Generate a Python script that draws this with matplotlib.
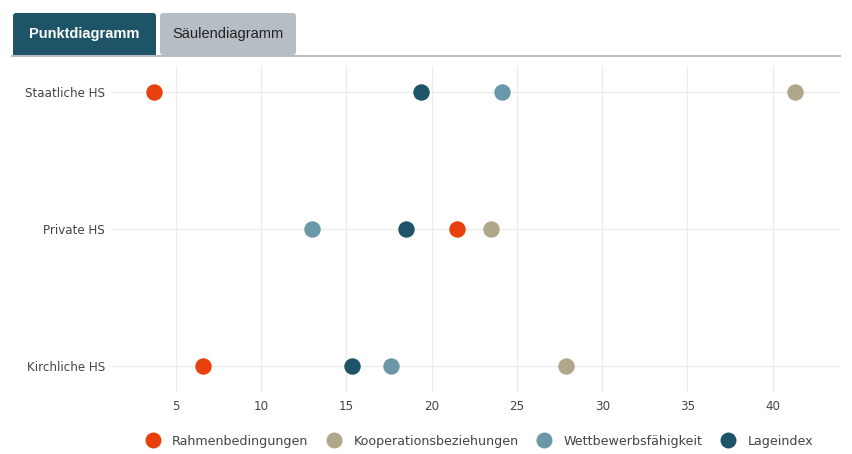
import matplotlib.pyplot as plt
from matplotlib.patches import FancyBboxPatch
from matplotlib.lines import Line2D

categories = ['Staatliche HS', 'Private HS', 'Kirchliche HS']
series_names = ['Rahmenbedingungen', 'Kooperationsbeziehungen', 'Wettbewerbsfähigkeit', 'Lageindex']
rahmen = [3.7, 21.5, 6.6]
koop = [41.3, 23.5, 27.9]
wett = [24.1, 13.0, 17.6]
lage = [19.4, 18.5, 15.3]
colors = ['#e8400c', '#b0a68a', '#6b98a8', '#1d5468']
xticks = [5, 10, 15, 20, 25, 30, 35, 40]

W, H = 852, 454
fig = plt.figure(figsize=(W / 100, H / 100), dpi=100)
ax = fig.add_axes([112 / W, 1 - 392 / H, (840 - 112) / W, (392 - 66) / H])

ypos = [0, 1, 2]
for vals, name, c in zip([rahmen, koop, wett, lage], series_names, colors):
    ax.scatter(vals, ypos, s=140, color=c, label=name, zorder=3, linewidths=0)

ax.set_xlim(1.25, 43.95)
ax.set_ylim(2.19, -0.19)
ax.set_yticks(ypos)
ax.set_yticklabels(categories)
ax.set_xticks(xticks)
ax.grid(True, color='#ececec', linewidth=0.9)
ax.set_axisbelow(True)
for s in ax.spines.values():
    s.set_visible(False)
ax.tick_params(length=0, labelsize=8.6, colors='#444444', pad=6)
ax.tick_params(axis='y', pad=5)

# tabs
tab_ax = fig.add_axes([0, 0, 1, 1])
tab_ax.set_xlim(0, W)
tab_ax.set_ylim(H, 0)
tab_ax.axis('off')
tab_ax.patch.set_alpha(0)
tab_ax.add_patch(FancyBboxPatch((13, 13), 143, 44, boxstyle='round,pad=0,rounding_size=3',
                                facecolor='#1d5468', edgecolor='none'))
tab_ax.add_patch(FancyBboxPatch((160, 13), 136, 42, boxstyle='round,pad=0,rounding_size=3',
                                facecolor='#b6bdc4', edgecolor='none'))
tab_ax.plot([12, 840], [55.5, 55.5], color='#b6bdc4', linewidth=1.5)
tab_ax.text(84, 34, 'Punktdiagramm', color='white', fontsize=10.5, fontweight='bold',
            family='Liberation Sans', ha='center', va='center')
tab_ax.text(228, 34, 'Säulendiagramm', color='#222222', fontsize=10.5,
            family='Liberation Sans', ha='center', va='center')

handles = [Line2D([], [], marker='o', linestyle='none', markersize=11.5, color=c,
                  markeredgewidth=0) for c in colors]
fig.legend(handles, series_names, loc='center', bbox_to_anchor=(478 / W, 1 - 441 / H),
           ncol=4, frameon=False, fontsize=9.1, handletextpad=0.8, columnspacing=1.25,
           handlelength=1.5, labelcolor='#444444')

fig.savefig('out.png', dpi=100)
